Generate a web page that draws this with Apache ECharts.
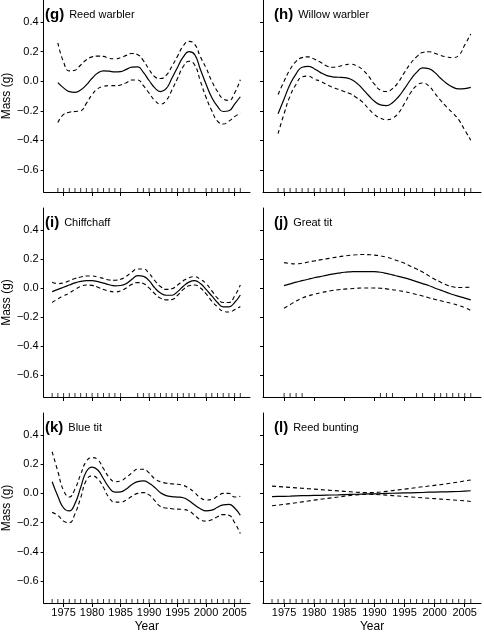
<!DOCTYPE html>
<html><head><meta charset="utf-8">
<script src="https://cdn.jsdelivr.net/npm/echarts@6/dist/echarts.min.js"></script>
<style>html,body{margin:0;padding:0;background:#fff}#c{width:484px;height:634px}</style>
</head><body><div id="c"></div>
<script>
// ---- data ----
var yTicks = [-0.6, -0.4, -0.2, 0.0, 0.2, 0.4];
var xTicks = [1975, 1980, 1985, 1990, 1995, 2000, 2005];

var gStart = 1974;
var gFit = [-0.01,-0.045,-0.07,-0.075,-0.06,-0.025,0.02,0.055,0.07,0.068,0.063,0.065,0.08,0.095,0.097,0.06,0.005,-0.045,-0.07,-0.05,0.02,0.095,0.165,0.2,0.18,0.08,-0.02,-0.11,-0.17,-0.205,-0.2,-0.155,-0.105];
var gUp = [0.26,0.13,0.07,0.075,0.11,0.145,0.165,0.17,0.168,0.155,0.152,0.16,0.175,0.188,0.18,0.14,0.08,0.03,0.018,0.04,0.1,0.17,0.24,0.27,0.25,0.165,0.09,0.0,-0.07,-0.12,-0.13,-0.08,0.01];
var gLo = [-0.28,-0.225,-0.21,-0.205,-0.2,-0.15,-0.09,-0.05,-0.035,-0.03,-0.03,-0.025,-0.01,0.008,0.008,-0.03,-0.08,-0.13,-0.155,-0.13,-0.06,0.02,0.1,0.135,0.11,0.0,-0.11,-0.2,-0.27,-0.29,-0.27,-0.24,-0.215];
var gRug = [1974,1975,1976,1977,1978,1979,1980,1981,1982,1983,1984,1985,1988,1989,1990,1991,1992,1993,1994,1995,1996,1997,1998,2000,2001,2002,2003,2004,2005,2006];

var hStart = 1974;
var hFit = [-0.22,-0.12,-0.02,0.05,0.095,0.1,0.085,0.06,0.04,0.03,0.027,0.025,0.015,-0.01,-0.05,-0.095,-0.135,-0.16,-0.165,-0.145,-0.105,-0.05,0.01,0.06,0.09,0.085,0.06,0.02,-0.015,-0.04,-0.052,-0.05,-0.042];
var hUp = [-0.09,0.0,0.08,0.135,0.16,0.165,0.15,0.13,0.105,0.095,0.1,0.11,0.115,0.105,0.08,0.035,-0.02,-0.06,-0.07,-0.05,-0.005,0.06,0.12,0.165,0.195,0.2,0.19,0.175,0.165,0.16,0.175,0.245,0.32];
var hLo = [-0.355,-0.22,-0.1,-0.02,0.03,0.035,0.015,0.0,-0.02,-0.04,-0.055,-0.07,-0.085,-0.11,-0.14,-0.185,-0.225,-0.25,-0.26,-0.25,-0.215,-0.15,-0.08,-0.03,-0.012,-0.03,-0.08,-0.13,-0.175,-0.215,-0.26,-0.33,-0.4];
var hRug = [1974,1975,1976,1977,1978,1979,1980,1981,1982,1983,1984,1985,1988,1989,1990,1991,1992,1993,1994,1995,1996,1997,1998,2000,2001,2002,2003,2004,2005,2006];

var iStart = 1973;
var iFit = [-0.025,-0.01,0.005,0.02,0.035,0.045,0.05,0.05,0.043,0.033,0.022,0.015,0.017,0.03,0.06,0.085,0.08,0.05,0.0,-0.035,-0.05,-0.05,-0.025,0.012,0.04,0.05,0.03,-0.01,-0.055,-0.1,-0.13,-0.13,-0.1,-0.048];
var iUp = [0.04,0.03,0.035,0.05,0.065,0.075,0.082,0.082,0.075,0.065,0.055,0.053,0.06,0.08,0.11,0.13,0.13,0.1,0.05,0.01,-0.01,-0.005,0.02,0.05,0.07,0.077,0.06,0.03,-0.02,-0.07,-0.1,-0.1,-0.055,0.02];
var iLo = [-0.1,-0.075,-0.055,-0.035,-0.01,0.01,0.02,0.018,0.005,-0.01,-0.022,-0.027,-0.02,0.0,0.025,0.037,0.03,0.0,-0.04,-0.07,-0.082,-0.08,-0.05,-0.01,0.015,0.02,0.0,-0.04,-0.09,-0.13,-0.16,-0.165,-0.15,-0.127];
var iRug = [1973,1974,1975,1976,1977,1978,1979,1980,1981,1982,1983,1984,1985,1988,1989,1990,1991,1992,1993,1994,1995,1996,1997,1998,2000,2001,2002,2003,2004,2005,2006];

var jStart = 1975;
var jFit = [0.016,0.028,0.04,0.05,0.06,0.07,0.078,0.087,0.095,0.102,0.108,0.111,0.113,0.113,0.113,0.112,0.108,0.1,0.09,0.08,0.069,0.057,0.044,0.03,0.017,0.0,-0.015,-0.03,-0.045,-0.058,-0.07,-0.082];
var jUp = [0.174,0.168,0.166,0.17,0.178,0.186,0.193,0.2,0.207,0.214,0.22,0.225,0.228,0.23,0.229,0.226,0.22,0.212,0.2,0.185,0.17,0.15,0.13,0.11,0.085,0.06,0.04,0.02,0.008,0.003,0.004,0.005];
var jLo = [-0.14,-0.115,-0.09,-0.07,-0.055,-0.043,-0.033,-0.025,-0.018,-0.012,-0.008,-0.005,-0.002,0.0,0.0,0.0,-0.002,-0.006,-0.012,-0.018,-0.026,-0.035,-0.045,-0.055,-0.067,-0.078,-0.088,-0.098,-0.108,-0.12,-0.135,-0.155];
var jRug = [1975,1976,1977,1978,1991,1992,1993,1997,1998,2000,2001,2002,2003,2004,2005,2006];

var kStart = 1973;
var kFit = [0.08,-0.02,-0.1,-0.12,-0.07,0.04,0.15,0.18,0.16,0.1,0.04,0.008,0.01,0.03,0.06,0.08,0.085,0.07,0.04,0.005,-0.015,-0.022,-0.025,-0.03,-0.05,-0.08,-0.105,-0.12,-0.115,-0.095,-0.078,-0.075,-0.1,-0.15];
var kUp = [0.285,0.15,0.02,-0.025,0.03,0.13,0.22,0.245,0.23,0.17,0.11,0.08,0.085,0.11,0.14,0.165,0.165,0.14,0.1,0.08,0.07,0.065,0.062,0.055,0.035,0.005,-0.03,-0.045,-0.04,-0.02,0.0,0.0,-0.025,-0.02];
var kLo = [-0.13,-0.15,-0.19,-0.2,-0.14,-0.03,0.09,0.12,0.1,0.04,-0.03,-0.06,-0.06,-0.045,-0.02,0.0,0.005,-0.01,-0.05,-0.09,-0.1,-0.105,-0.108,-0.11,-0.12,-0.15,-0.18,-0.19,-0.18,-0.16,-0.145,-0.15,-0.2,-0.275];
var kRug = [1973,1974,1975,1976,1977,1978,1979,1980,1981,1982,1983,1984,1985,1986,1987,1988,1989,1990,1991,1992,1993,1994,1995,1996,1997,1998,1999,2000,2001,2002,2003,2004,2005,2006];

var lStart = 1973;
var lFit = [-0.022,-0.021,-0.02,-0.019,-0.017,-0.016,-0.015,-0.014,-0.013,-0.012,-0.011,-0.01,-0.008,-0.007,-0.006,-0.005,-0.004,-0.003,-0.002,0.0,0.001,0.002,0.003,0.004,0.005,0.006,0.008,0.009,0.01,0.011,0.012,0.013,0.016,0.018];
var lUp = [0.05,0.047,0.044,0.041,0.038,0.035,0.032,0.029,0.026,0.023,0.02,0.017,0.014,0.011,0.008,0.006,0.005,0.006,0.009,0.014,0.019,0.024,0.029,0.034,0.04,0.045,0.05,0.055,0.06,0.066,0.072,0.078,0.085,0.092];
var lLo = [-0.085,-0.08,-0.075,-0.07,-0.064,-0.058,-0.052,-0.046,-0.04,-0.035,-0.03,-0.025,-0.019,-0.014,-0.01,-0.007,-0.006,-0.007,-0.009,-0.012,-0.015,-0.018,-0.021,-0.024,-0.027,-0.03,-0.033,-0.036,-0.039,-0.042,-0.045,-0.048,-0.051,-0.055];
var lRug = kRug;

var panels = [
  {tag:'(g)', name:'Reed warbler',   start:gStart, fit:gFit, up:gUp, lo:gLo, rug:gRug, smooth:true},
  {tag:'(h)', name:'Willow warbler', start:hStart, fit:hFit, up:hUp, lo:hLo, rug:hRug, smooth:true},
  {tag:'(i)', name:'Chiffchaff',     start:iStart, fit:iFit, up:iUp, lo:iLo, rug:iRug, smooth:true},
  {tag:'(j)', name:'Great tit',      start:jStart, fit:jFit, up:jUp, lo:jLo, rug:jRug, smooth:true},
  {tag:'(k)', name:'Blue tit',       start:kStart, fit:kFit, up:kUp, lo:kLo, rug:kRug, smooth:true},
  {tag:'(l)', name:'Reed bunting',   start:lStart, fit:lFit, up:lUp, lo:lLo, rug:lRug, smooth:false}
];

// ---- layout ----
var FONT = 'Liberation Sans, Arial, Helvetica, sans-serif';
var YMIN = -0.75, YMAX = 0.55, XMIN = 1971.5, XMAX = 2007.7;
var grids = [
  {left:34, top:0, width:216, height:192},
  {left:263, top:0, width:218, height:192},
  {left:34, top:208, width:216, height:189},
  {left:263, top:208, width:218, height:189},
  {left:34, top:413, width:216, height:190},
  {left:263, top:413, width:218, height:190}
];

function pairs(start, arr){ return arr.map(function(v,i){ return [start+i, v]; }); }
function fmtY(v){ var s = Math.abs(v).toFixed(1); return v < -1e-9 ? '\u2212'+s : s; }
function fmtX(v){ return String(Math.round(v)); }

var option = {animation:false, backgroundColor:'#fff', grid:[], xAxis:[], yAxis:[], series:[], title:[]};

panels.forEach(function(p, idx){
  var g = grids[idx];
  var isLeft = idx % 2 === 0;
  var isBottom = idx >= 4;
  option.grid.push({left:g.left, top:g.top, width:g.width, height:g.height, containLabel:false});
  option.xAxis.push({
    type:'value', gridIndex:idx, min:XMIN, max:XMAX,
    axisLine:{show:true, onZero:false, lineStyle:{color:'#000', width:1}},
    axisTick:{show:true, length:4, customValues:xTicks, lineStyle:{color:'#000'}},
    axisLabel:{show:isBottom, customValues:xTicks, margin:4, color:'#000', fontSize:11, fontFamily:FONT, formatter:fmtX},
    splitLine:{show:false},
    name: isBottom ? 'Year' : '', nameLocation:'middle', nameGap:18,
    nameTextStyle:{color:'#000', fontSize:12, fontFamily:FONT}
  });
  option.yAxis.push({
    type:'value', gridIndex:idx, min:YMIN, max:YMAX,
    axisLine:{show:true, onZero:false, lineStyle:{color:'#000', width:1}},
    axisTick:{show:true, length:3, customValues:yTicks, lineStyle:{color:'#000'}},
    axisLabel:{show:isLeft, customValues:yTicks, margin:5, color:'#000', fontSize:11, fontFamily:FONT, formatter:fmtY},
    splitLine:{show:false},
    name: isLeft ? 'Mass (g)' : '', nameLocation:'middle', nameGap:26,
    nameTextStyle:{color:'#000', fontSize:12, fontFamily:FONT}
  });
  option.title.push({
    text:'{b|' + p.tag + '} {n|' + p.name + '}',
    left:g.left + 6, top:g.top + 1,
    textStyle:{fontWeight:'normal', rich:{
      b:{fontSize:15, fontWeight:'bold', color:'#000', fontFamily:FONT},
      n:{fontSize:11, fontWeight:'normal', color:'#000', fontFamily:FONT}
    }}
  });
  var common = {type:'line', xAxisIndex:idx, yAxisIndex:idx, showSymbol:false, symbol:'none', smooth:p.smooth ? 0.5 : false, silent:true};
  option.series.push(Object.assign({}, common, {data:pairs(p.start, p.fit), lineStyle:{color:'#000', width:1.2}}));
  option.series.push(Object.assign({}, common, {data:pairs(p.start, p.up), lineStyle:{color:'#000', width:1.1, type:[4,3]}}));
  option.series.push(Object.assign({}, common, {data:pairs(p.start, p.lo), lineStyle:{color:'#000', width:1.1, type:[4,3]}}));
  option.series.push({
    type:'scatter', xAxisIndex:idx, yAxisIndex:idx, silent:true, clip:false,
    symbol:'rect', symbolSize:[1,4], symbolOffset:[0,-2],
    itemStyle:{color:'#000'},
    data:p.rug.map(function(y){ return [y, YMIN]; })
  });
});

var chart = echarts.init(document.getElementById('c'), null, {renderer:'canvas', width:484, height:634});
chart.setOption(option);
</script>
</body></html>
